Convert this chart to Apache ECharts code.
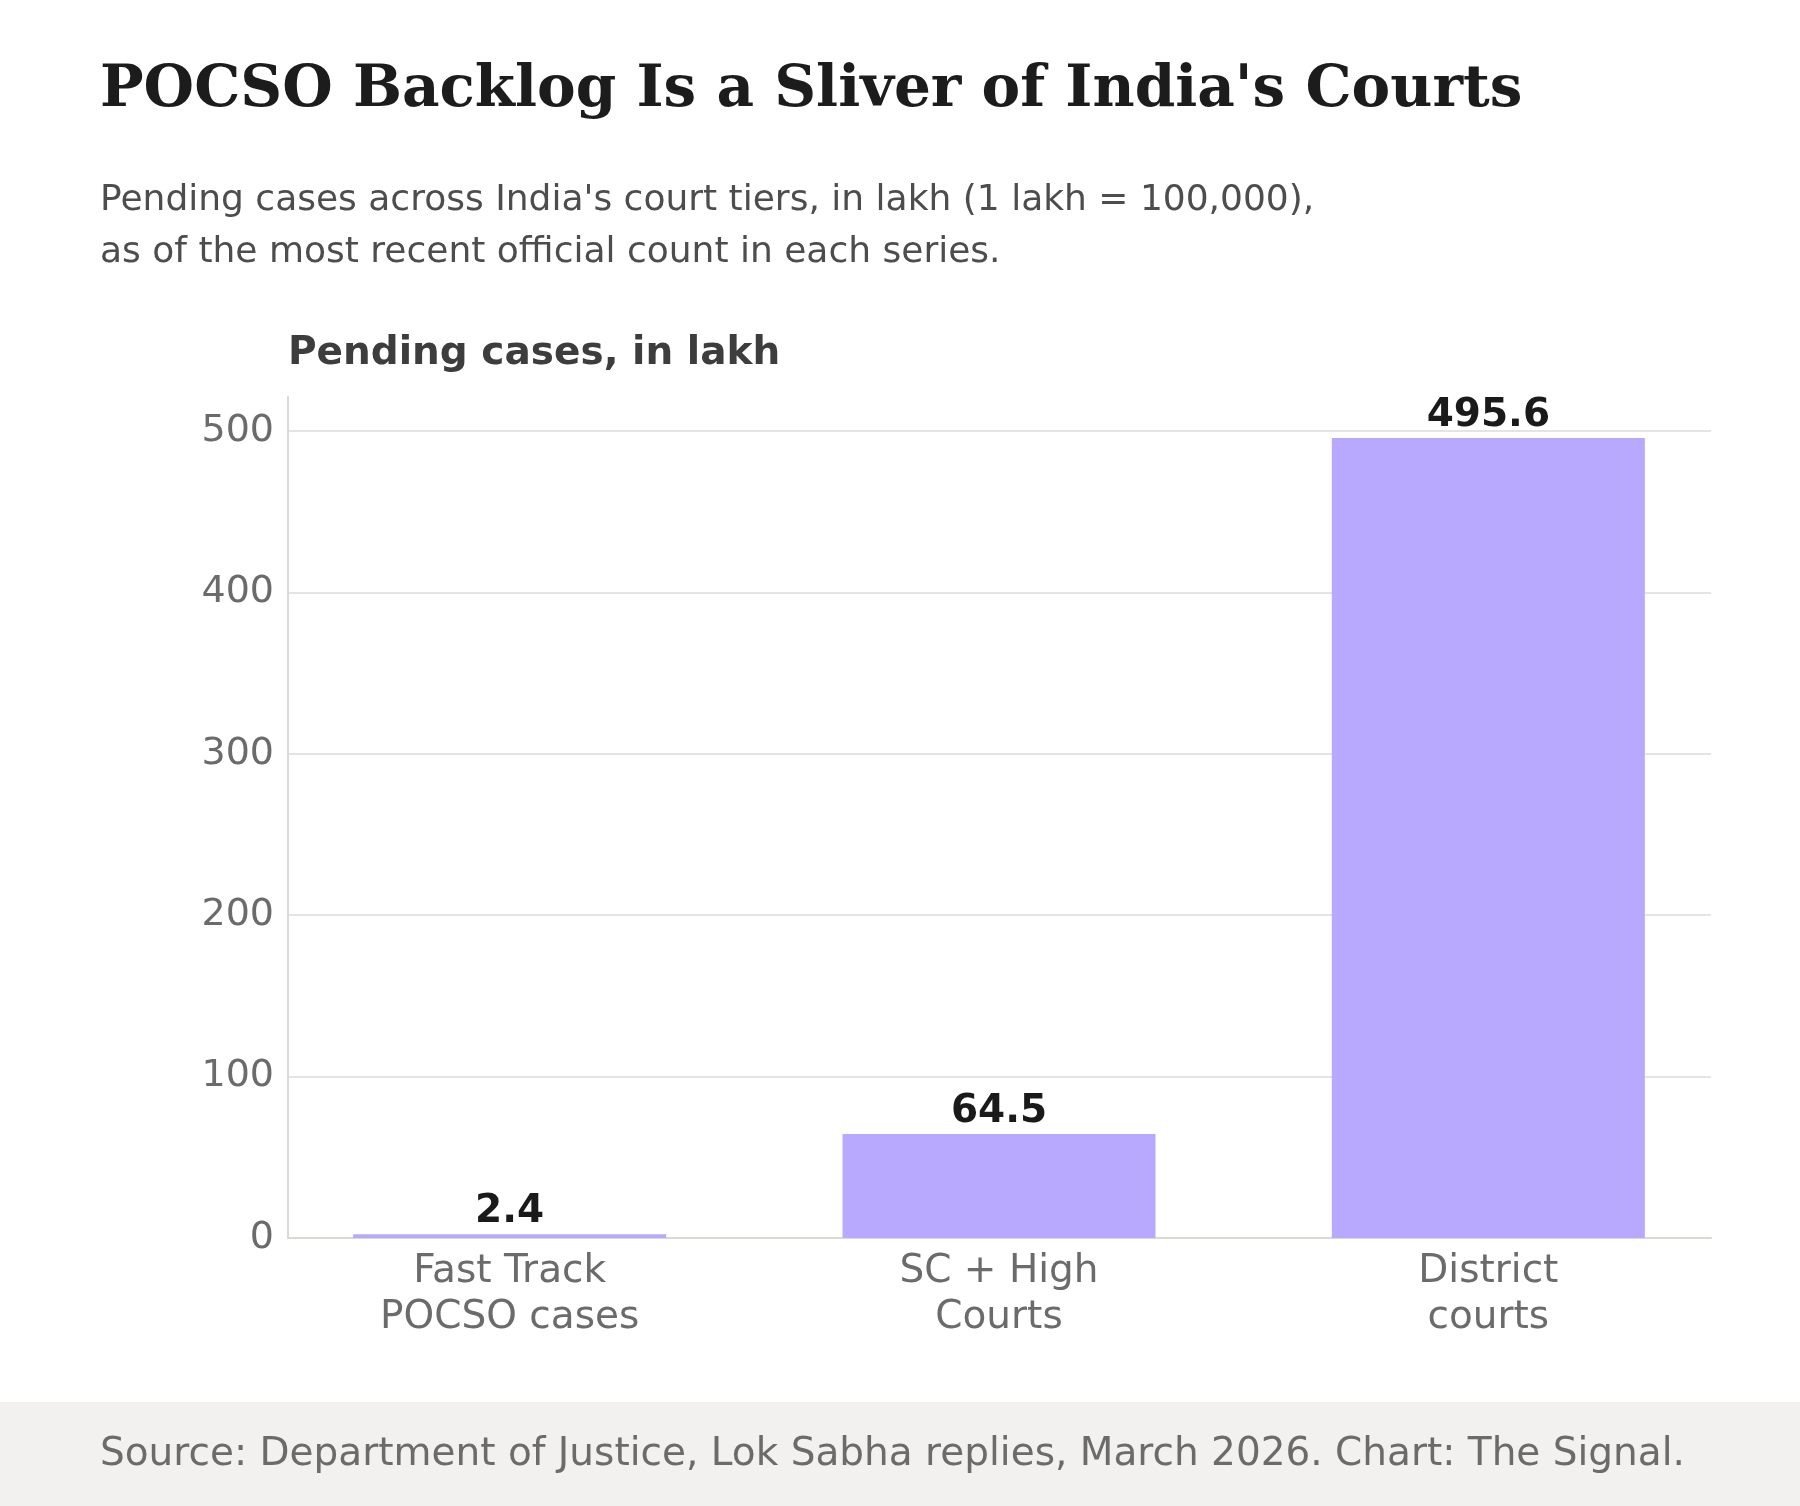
<!DOCTYPE html>
<html>
<head>
<meta charset="utf-8">
<script src="https://cdn.jsdelivr.net/npm/echarts@6/dist/echarts.min.js"></script>
<style>
  html, body { margin: 0; padding: 0; background: #ffffff; }
  #chart { width: 1800px; height: 1506px; }
</style>
</head>
<body>
<div id="chart"></div>
<script>
// court tiers and pending cases (lakh)
var categories = ["Fast Track\nPOCSO cases", "SC + High\nCourts", "District\ncourts"];
var pending = [2.4, 64.5, 495.6];
var yTicks = [0, 100, 200, 300, 400, 500];

var titleText = "POCSO Backlog Is a Sliver of India's Courts";
var subText = "Pending cases across India's court tiers, in lakh (1 lakh = 100,000),\nas of the most recent official count in each series.";
var axisTitle = "Pending cases, in lakh";
var sourceText = "Source: Department of Justice, Lok Sabha replies, March 2026. Chart: The Signal.";

var sans = "DejaVu Sans";
var yMax = 521;
var gridTop = 397, gridBottom = 268;

var myChart = echarts.init(document.getElementById("chart"), null, { renderer: "canvas" });

var options = {
  backgroundColor: "#ffffff",
  animation: false,
  title: [
    {
      text: titleText,
      left: 100,
      top: 62,
      padding: 0,
      textStyle: { fontFamily: "DejaVu Serif", fontWeight: "bold", fontSize: 58, lineHeight: 58, color: "#1c1c1c" }
    },
    {
      text: subText,
      left: 100,
      top: 175,
      padding: 0,
      textStyle: { fontFamily: sans, fontWeight: "normal", fontSize: 36, lineHeight: 52, color: "#4d4d4d" }
    },
    {
      text: axisTitle,
      left: 288,
      top: 334,
      padding: 0,
      textStyle: { fontFamily: sans, fontWeight: "bold", fontSize: 39, lineHeight: 39, color: "#3d3d3d" }
    },
    {
      text: sourceText,
      left: 100,
      top: 1435,
      padding: 0,
      textStyle: { fontFamily: sans, fontWeight: "normal", fontSize: 39, lineHeight: 39, color: "#6b6b6b" }
    }
  ],
  graphic: [
    {
      type: "rect",
      left: 0,
      top: 1402,
      z: -10,
      shape: { width: 1800, height: 104 },
      style: { fill: "#f2f1ef" }
    }
  ],
  grid: [
    // axis frame
    { left: 288, right: 89, top: gridTop, bottom: gridBottom, containLabel: false },
    // bars (category bands slightly wider than the frame)
    { left: 265, right: 67, top: gridTop, bottom: gridBottom, containLabel: false }
  ],
  xAxis: [
    {
      gridIndex: 0,
      type: "category",
      data: categories,
      axisLine: { show: true, lineStyle: { color: "#dad9d4", width: 2 } },
      axisTick: { show: false },
      axisLabel: { show: false },
      splitLine: { show: false }
    },
    {
      gridIndex: 1,
      type: "category",
      data: categories,
      axisLine: { show: false },
      axisTick: { show: false },
      axisLabel: {
        margin: 11,
        fontFamily: sans,
        fontSize: 39,
        lineHeight: 46,
        color: "#6b6b6b"
      }
    }
  ],
  yAxis: [
    {
      gridIndex: 0,
      type: "value",
      min: yTicks[0],
      max: yMax,
      interval: yTicks[1] - yTicks[0],
      axisLine: { show: true, lineStyle: { color: "#dad9d4", width: 2 } },
      axisTick: { show: false },
      axisLabel: {
        margin: 14,
        fontFamily: sans,
        fontSize: 38,
        color: "#6b6b6b",
        showMaxLabel: false,
        formatter: function(v) {
          return yTicks.indexOf(v) >= 0 ? String(v) : "";
        }
      },
      splitLine: { show: true, showMaxLine: false, lineStyle: { color: "#e4e4e4", width: 2 } }
    },
    {
      gridIndex: 1,
      type: "value",
      min: yTicks[0],
      max: yMax,
      interval: yTicks[1] - yTicks[0],
      show: false,
      splitLine: { show: false }
    }
  ],
  series: [
    {
      name: "Pending",
      type: "bar",
      xAxisIndex: 1,
      yAxisIndex: 1,
      barWidth: 313,
      data: pending,
      itemStyle: { color: "#b8a9ff" },
      label: {
        show: true,
        position: "top",
        distance: 3,
        fontFamily: sans,
        fontWeight: "bold",
        fontSize: 39,
        color: "#1a1a1a",
        formatter: function(p) {
          return p.value.toFixed(1);
        }
      }
    }
  ]
};

myChart.setOption(options);
window.addEventListener("resize", function() {
  myChart.resize();
});
</script>
</body>
</html>
